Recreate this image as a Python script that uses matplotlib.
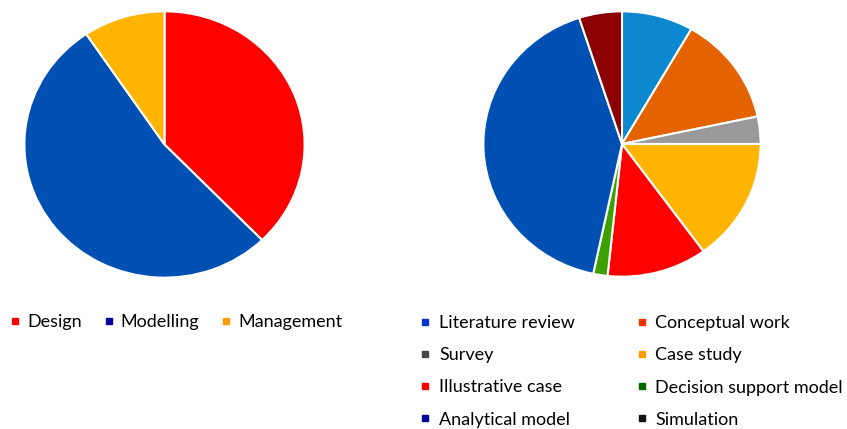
import matplotlib
matplotlib.use('Agg')
import matplotlib.pyplot as plt
from matplotlib.lines import Line2D

# Left pie: research focus
focus_labels = ['Design', 'Modelling', 'Management']
focus_values = [20, 28, 5]
focus_colors = ['#ff0000', '#0050b4', '#ffb400']
focus_legend_colors = ['#ff0000', '#000099', '#ff9900']

# Right pie: research method
method_labels = ['Literature review', 'Conceptual work', 'Survey', 'Case study',
                 'Illustrative case', 'Decision support model', 'Analytical model', 'Simulation']
method_values = [5, 8, 2, 9, 7, 1, 25, 3]
method_colors = ['#0b88d0', '#e46200', '#999999', '#ffb400',
                 '#ff0000', '#3ca000', '#0050b4', '#8b0000']
method_legend_colors = ['#0033cc', '#ee3300', '#444444', '#ff9900',
                        '#ff0000', '#006600', '#000099', '#111111']

plt.rcParams['font.family'] = ['Lato', 'DejaVu Sans']

W, H = 847, 429
fig = plt.figure(figsize=(W / 100, H / 100), dpi=100)


def pie_axes(x0, x1, y0, y1):
    # pixel box -> figure fraction
    return fig.add_axes([x0 / W, 1 - y1 / H, (x1 - x0) / W, (y1 - y0) / H])


ax1 = pie_axes(23, 306, 10, 279)
ax2 = pie_axes(482, 762, 10, 278)

for ax, vals, cols in [(ax1, focus_values, focus_colors), (ax2, method_values, method_colors)]:
    ax.pie(vals, colors=cols, startangle=90, counterclock=False,
           wedgeprops=dict(edgecolor='white', linewidth=1.5))
    ax.set_aspect('auto')
    ax.set_xlim(-1.01, 1.01)
    ax.set_ylim(-1.01, 1.01)
    ax.axis('off')


def handles(labels, colors):
    return [Line2D([], [], marker='s', linestyle='none', markersize=5,
                   markerfacecolor=c, markeredgecolor=c, label=l)
            for l, c in zip(labels, colors)]


fs = 13

h1 = handles(focus_labels, focus_legend_colors)
fig.legend(handles=h1, loc='upper left', bbox_to_anchor=(10 / W, 1 - 314 / H),
           ncol=3, frameon=False, fontsize=fs, handlelength=0.6,
           handletextpad=0.35, columnspacing=1.2, borderpad=0, borderaxespad=0)

h2 = handles(method_labels, method_legend_colors)
# legend fills column by column; reorder so rows read left to right
order = [0, 2, 4, 6, 1, 3, 5, 7]
fig.legend(handles=[h2[i] for i in order], loc='upper left',
           bbox_to_anchor=(420 / W, 1 - 315 / H), ncol=2, frameon=False,
           fontsize=fs, handlelength=0.6, handletextpad=0.45,
           columnspacing=3.4, labelspacing=0.9, borderpad=0, borderaxespad=0)

fig.savefig('out.png', dpi=100, facecolor='white')
